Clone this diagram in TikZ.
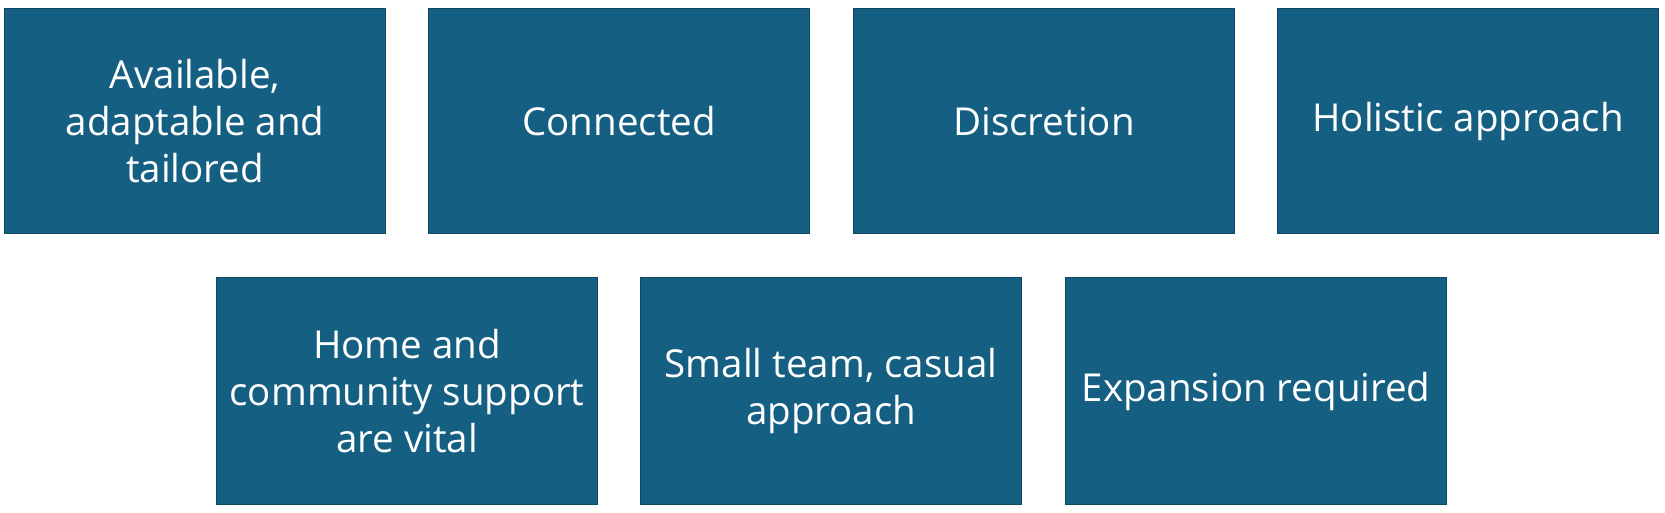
\documentclass[tikz,border=0pt]{standalone}
\usepackage{fontspec}
\setmainfont{Open Sans}
\definecolor{boxfill}{HTML}{156082}
\definecolor{boxline}{HTML}{0F4761}
\begin{document}
\begin{tikzpicture}[x=1pt,y=-1pt,
  card/.style={draw=boxline,line width=1.2pt,fill=boxfill,text=white,
    minimum width=381pt,minimum height=225pt,inner sep=0pt,
    align=center,font=\fontsize{38.5}{47}\selectfont,anchor=north west}]
\useasboundingbox[fill=white] (0,0) rectangle (1665,513);
\node[card] (a) at (4,8) {Available,\\adaptable and\\tailored};
\node[card] (b) at (428,8) {Connected};
\node[card] (c) at (853,8) {Discretion};
\node[card] (d) at (1277,8) {Holistic approach};
\node[card,minimum height=227pt] (e) at (216,277) {Home and\\community support\\are vital};
\node[card,minimum height=227pt] (f) at (640,277) {Small team, casual\\approach};
\node[card,minimum height=227pt] (g) at (1065,277) {Expansion required};
\end{tikzpicture}
\end{document}
